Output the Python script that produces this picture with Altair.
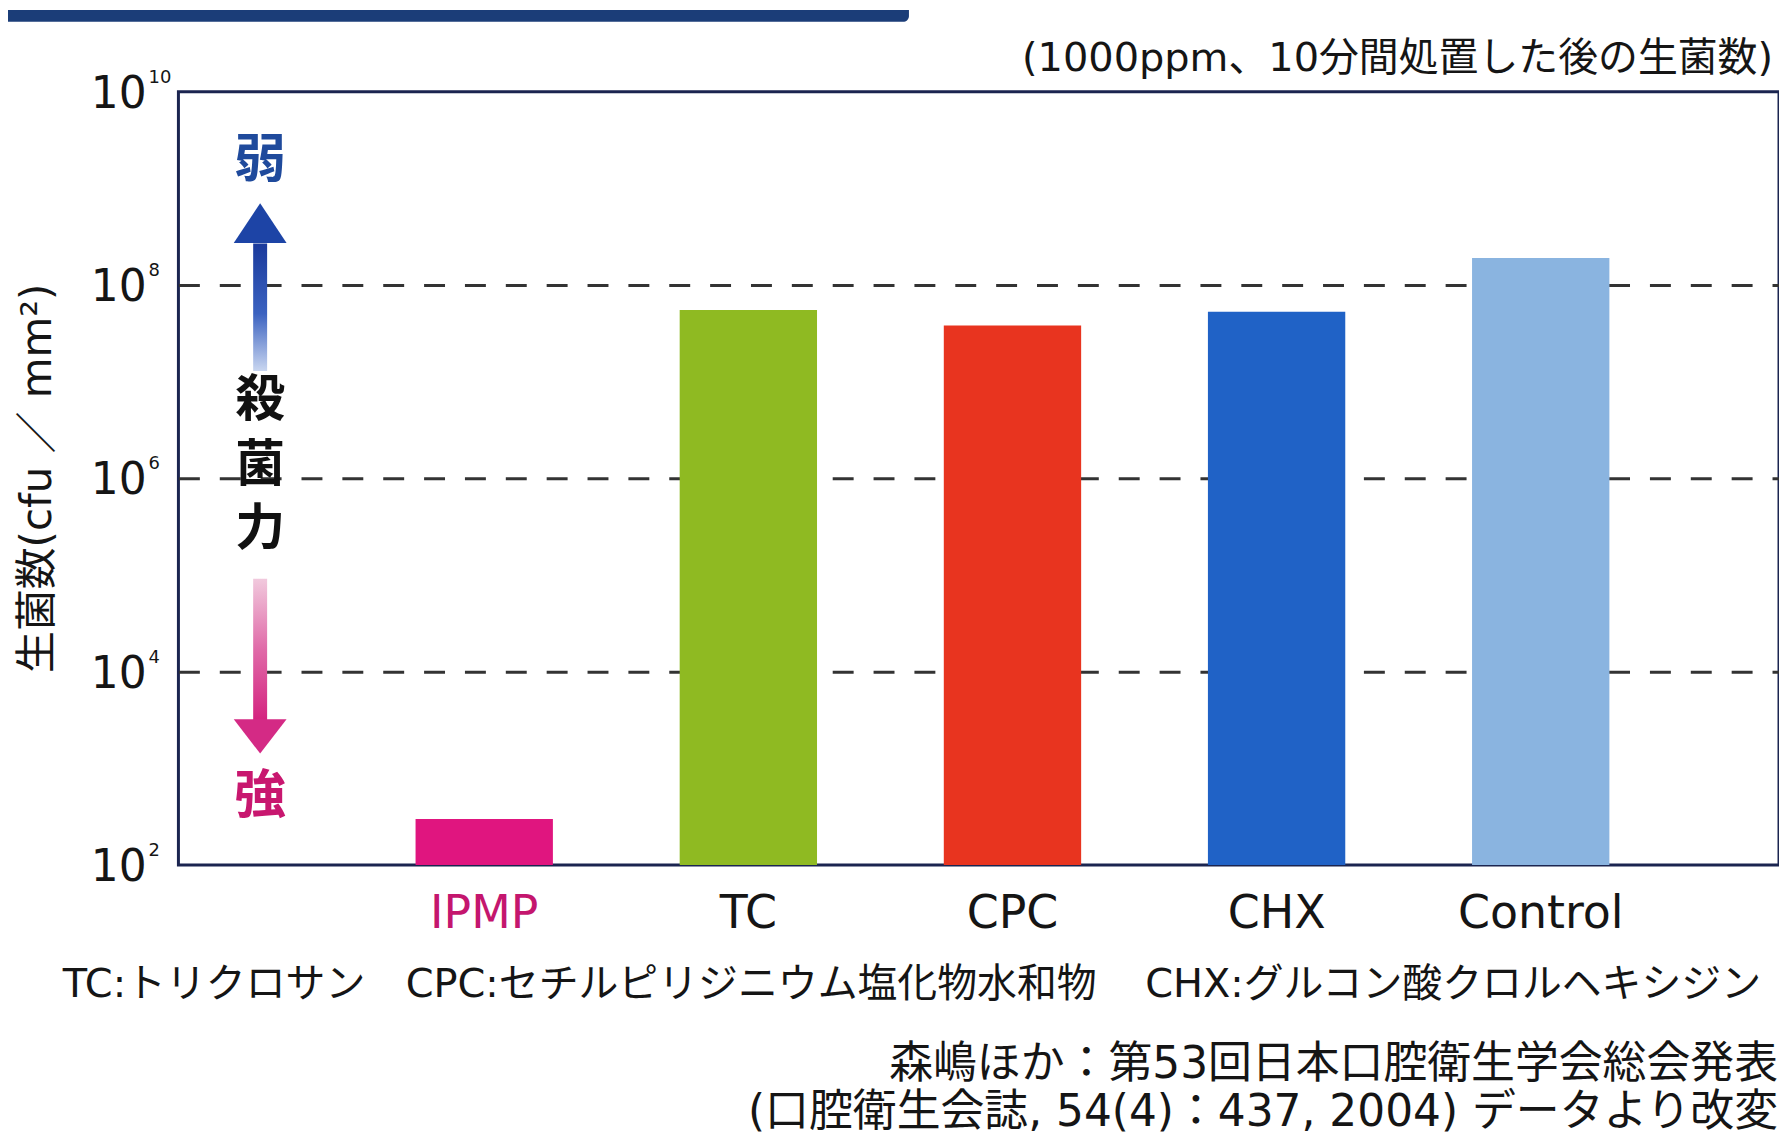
import altair as alt
import pandas as pd

# ---------------- data ----------------
categories = ["IPMP", "TC", "CPC", "CHX", "Control"]
counts = [300, 5.5e7, 3.8e7, 5.3e7, 1.9e8]
bar_colors = ["#e0157f", "#8fba22", "#e8341f", "#2062c6", "#8ab4e0"]

tick_values = [1e2, 1e4, 1e6, 1e8, 1e10]
tick_base = ["10", "10", "10", "10", "10"]
tick_sup = ["2", "4", "6", "8", "10"]
grid_values = [1e4, 1e6, 1e8]

# annotation positions (log10 of y value)
weak_exp = [9.28]
strong_exp = [2.70]
power_chars = ["殺", "菌", "力"]
power_exps = [6.80, 6.13, 5.46]
up_shaft_exps = [8.43, 7.11]
up_head_exp = [8.64]
down_shaft_exps = [4.96, 3.50]
down_head_exp = [3.33]

legend_parts = ["TC:トリクロサン", "CPC:セチルピリジニウム塩化物水和物", "CHX:グルコン酸クロルヘキシジン"]
subtitle = "(1000ppm、10分間処置した後の生菌数)"
y_title = "生菌数(cfu  ／  mm²)"
source1 = "森嶋ほか：第53回日本口腔衛生学会総会発表"
source2 = "(口腔衛生会誌, 54(4)：437, 2004) データより改変"

JP = "Noto Sans CJK JP"
LAT = "DejaVu Sans"
MIX = "DejaVu Sans, Noto Sans CJK JP"

W, H = 1606, 776

bars_df = pd.DataFrame({"cat": categories, "value": counts})
ticks_df = pd.DataFrame({"value": tick_values, "base": tick_base, "sup": tick_sup})

yscale = alt.Scale(type="log", domain=[1e2, 1e10], nice=False)
yaxis = alt.Axis(values=grid_values, labels=False, ticks=False, domain=False,
                 grid=True, gridDash=[21, 20], gridColor="#333333", gridWidth=3,
                 title=None)


def Y():
    return alt.Y("value:Q", scale=yscale, axis=yaxis)


bars = alt.Chart(bars_df).mark_bar().encode(
    x=alt.X("cat:N", sort=categories,
            scale=alt.Scale(paddingInner=0.48, paddingOuter=0.77, align=0.583),
            axis=alt.Axis(title=None, ticks=False, domain=False, labelAngle=0,
                          labelFont=LAT, labelFontSize=46, labelPadding=27,
                          labelColor=alt.expr("datum.value == 'IPMP' ? '#c4166e' : '#151515'"))),
    y=Y(),
    y2=alt.Y2(datum=100),
    color=alt.Color("cat:N", scale=alt.Scale(domain=categories, range=bar_colors), legend=None),
)

tick_main = alt.Chart(ticks_df).mark_text(
    align="right", baseline="alphabetic", dy=16, font=LAT, fontSize=44, color="#151515"
).encode(x=alt.value(-32), y=Y(), text="base:N")

tick_exp = alt.Chart(ticks_df).mark_text(
    align="left", baseline="alphabetic", dy=-9, font=LAT, fontSize=18, color="#151515"
).encode(x=alt.value(-30), y=Y(), text="sup:N")

AX = 82  # arrow centre, pixels from plot left

weak = alt.Chart(pd.DataFrame({"value": [10 ** e for e in weak_exp], "t": ["弱"]})).mark_text(
    font=JP, fontSize=52, fontWeight="bold", color="#1f4a9c", baseline="middle"
).encode(x=alt.value(AX), y=Y(), text="t:N")

strong = alt.Chart(pd.DataFrame({"value": [10 ** e for e in strong_exp], "t": ["強"]})).mark_text(
    font=JP, fontSize=52, fontWeight="bold", color="#c8176f", baseline="middle"
).encode(x=alt.value(AX), y=Y(), text="t:N")

power = alt.Chart(pd.DataFrame({"value": [10 ** e for e in power_exps], "t": power_chars})).mark_text(
    font=JP, fontSize=50, fontWeight="bold", color="#111111", baseline="middle"
).encode(x=alt.value(AX), y=Y(), text="t:N")

up_shaft = alt.Chart(pd.DataFrame({"value": [10 ** up_shaft_exps[0]], "value2": [10 ** up_shaft_exps[1]]})).mark_rect(
    color=alt.LinearGradient(gradient="linear", x1=0, x2=0, y1=0, y2=1,
                             stops=[alt.GradientStop(color="#1a3a9c", offset=0),
                                    alt.GradientStop(color="#3b62c0", offset=0.55),
                                    alt.GradientStop(color="#c9d6f0", offset=1)])
).encode(x=alt.value(AX - 7), x2=alt.value(AX + 7), y=Y(), y2="value2:Q")

up_head = alt.Chart(pd.DataFrame({"value": [10 ** e for e in up_head_exp]})).mark_point(
    shape="M -1 0.75 L 1 0.75 L 0 -0.75 Z", filled=True, size=2809, opacity=1, color="#1d44a6"
).encode(x=alt.value(AX), y=Y())

down_shaft = alt.Chart(pd.DataFrame({"value": [10 ** down_shaft_exps[0]], "value2": [10 ** down_shaft_exps[1]]})).mark_rect(
    color=alt.LinearGradient(gradient="linear", x1=0, x2=0, y1=0, y2=1,
                             stops=[alt.GradientStop(color="#f1c9dd", offset=0),
                                    alt.GradientStop(color="#e06aa8", offset=0.5),
                                    alt.GradientStop(color="#d4237f", offset=1)])
).encode(x=alt.value(AX - 7), x2=alt.value(AX + 7), y=Y(), y2="value2:Q")

down_head = alt.Chart(pd.DataFrame({"value": [10 ** e for e in down_head_exp]})).mark_point(
    shape="M -1 -0.65 L 1 -0.65 L 0 0.65 Z", filled=True, size=2809, opacity=1, color="#d42a85"
).encode(x=alt.value(AX), y=Y())

base = alt.Chart(pd.DataFrame({"d": [0]}))

banner = base.mark_rect(color="#1b3d78", cornerRadiusBottomRight=12).encode(
    x=alt.value(-171), x2=alt.value(733), y=alt.value(-82), y2=alt.value(-70))

sub = base.mark_text(font=MIX, fontSize=40, align="right", baseline="middle", color="#151515").encode(
    x=alt.value(W - 6), y=alt.value(-33), text=alt.value(subtitle))

ytitle = base.mark_text(font=MIX, fontSize=42, angle=270, align="center", baseline="middle", color="#151515").encode(
    x=alt.value(-141), y=alt.value(388), text=alt.value(y_title))

leg_x = [-116, 228, 970]
legend_layers = [
    base.mark_text(font=MIX, fontSize=40, align="left", baseline="alphabetic", color="#151515").encode(
        x=alt.value(lx), y=alt.value(908), text=alt.value(t))
    for lx, t in zip(leg_x, legend_parts)
]

src1 = base.mark_text(font=MIX, fontSize=44, align="right", baseline="alphabetic", color="#151515").encode(
    x=alt.value(W - 1), y=alt.value(990), text=alt.value(source1))
src2 = base.mark_text(font=MIX, fontSize=44, align="right", baseline="alphabetic", color="#151515").encode(
    x=alt.value(W - 1), y=alt.value(1038), text=alt.value(source2))

chart = alt.layer(
    bars, tick_main, tick_exp, up_shaft, up_head, down_shaft, down_head,
    weak, strong, power, banner, sub, ytitle, *legend_layers, src1, src2
).properties(
    width=W, height=H,
    autosize=alt.AutoSizeParams(type="none"),
    padding={"left": 171, "top": 82, "right": 0, "bottom": 272},
    background="white",
).configure_view(
    stroke="#1b2550", strokeWidth=3
)

chart.save("out.html", embed_options={"renderer": "svg", "actions": False})
